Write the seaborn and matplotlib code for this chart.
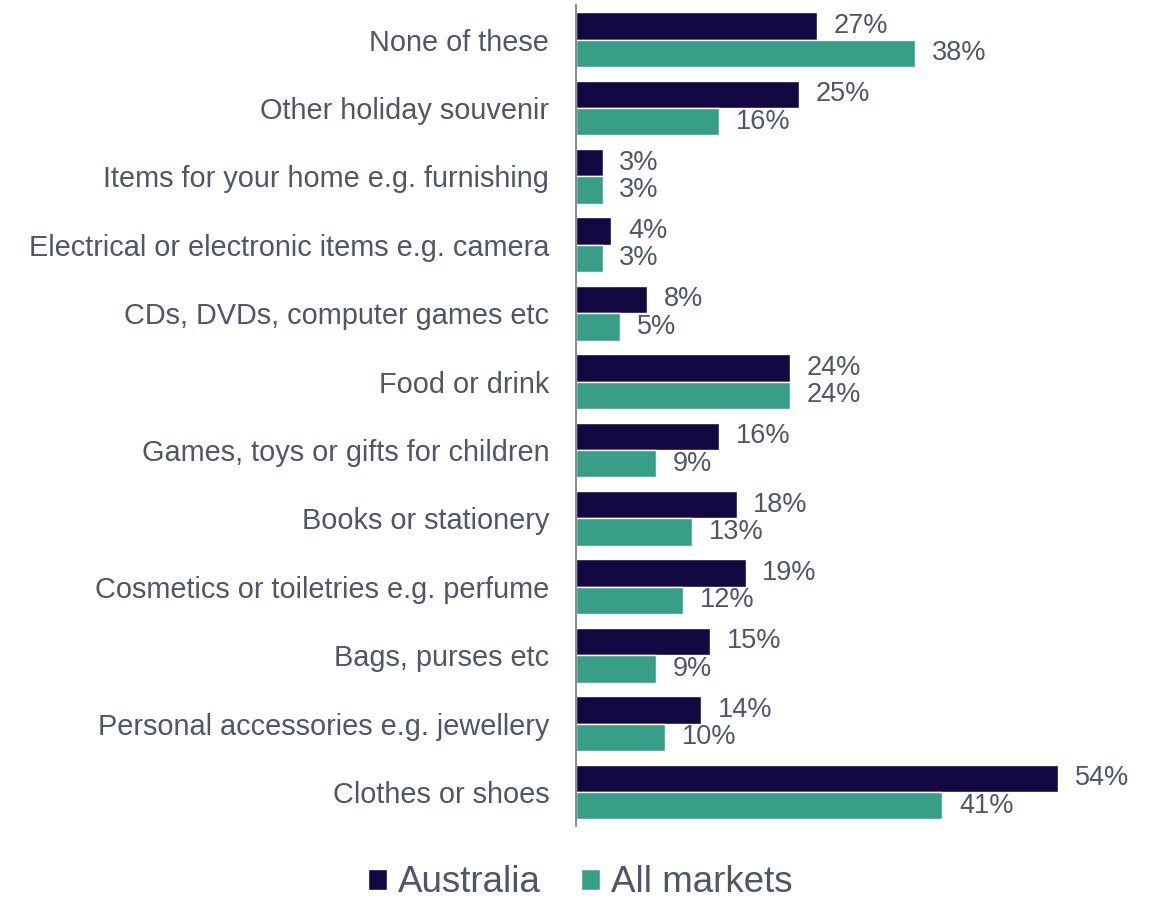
import matplotlib

matplotlib.use("Agg")

import matplotlib.pyplot as plt  # noqa: E402
import pandas as pd  # noqa: E402
import seaborn as sns  # noqa: E402

# Chart data (top to bottom).
CATEGORIES = [
    "None of these",
    "Other holiday souvenir",
    "Items for your home e.g. furnishing",
    "Electrical or electronic items e.g. camera",
    "CDs, DVDs, computer games etc",
    "Food or drink",
    "Games, toys or gifts for children",
    "Books or stationery",
    "Cosmetics or toiletries e.g. perfume",
    "Bags, purses etc",
    "Personal accessories e.g. jewellery",
    "Clothes or shoes",
]
AUSTRALIA = [27, 25, 3, 4, 8, 24, 16, 18, 19, 15, 14, 54]
ALL_MARKETS = [38, 16, 3, 3, 5, 24, 9, 13, 12, 9, 10, 41]
SERIES = ["Australia", "All markets"]

NAVY = "#130841"
TEAL = "#389E88"
TEXT = "#4D5766"

sns.set_theme(style="white")
plt.rcParams["font.family"] = ["Liberation Sans", "DejaVu Sans"]


def main() -> None:
    # long form so seaborn can split the bars by hue
    df = pd.DataFrame({
        "category": CATEGORIES * 2,
        "value": AUSTRALIA + ALL_MARKETS,
        "series": [SERIES[0]] * len(CATEGORIES) + [SERIES[1]] * len(CATEGORIES),
    })

    fig = plt.figure(figsize=(11.56, 8.98), dpi=100)
    ax = fig.add_axes([0.498, 0.080, 0.464, 0.914])

    sns.barplot(
        data=df, y="category", x="value", hue="series", orient="h",
        order=CATEGORIES, hue_order=SERIES, palette=[NAVY, TEAL],
        width=0.8, saturation=1, ax=ax, legend=True,
    )

    for cont in ax.containers:
        ax.bar_label(cont, labels=[f"{v:.0f}%" for v in cont.datavalues],
                     padding=12, fontsize=19.5, color=TEXT, clip_on=False)

    ax.set_xlim(0, 60)
    ax.set_ylim(len(CATEGORIES) - 0.5, -0.5)
    ax.set_xlabel("")
    ax.set_ylabel("")
    ax.set_xticks([])
    ax.tick_params(axis="y", length=0, pad=19, labelsize=20.8, labelcolor=TEXT)

    for side in ["top", "right", "bottom"]:
        ax.spines[side].set_visible(False)
    ax.spines["left"].set_color("#8C8C8C")
    ax.spines["left"].set_linewidth(1.5)

    # legend sits centred under the chart, below the category labels
    handles, labels = ax.get_legend_handles_labels()
    ax.legend_.remove()
    fig.legend(
        handles, labels, loc="center", bbox_to_anchor=(0.502, 0.017),
        ncol=2, frameon=False, fontsize=26.5, labelcolor=TEXT,
        handlelength=0.5, handleheight=0.5, handletextpad=0.3,
        columnspacing=1.1,
    )

    fig.savefig("out.png", dpi=100)
    plt.close(fig)


if __name__ == "__main__":
    main()
